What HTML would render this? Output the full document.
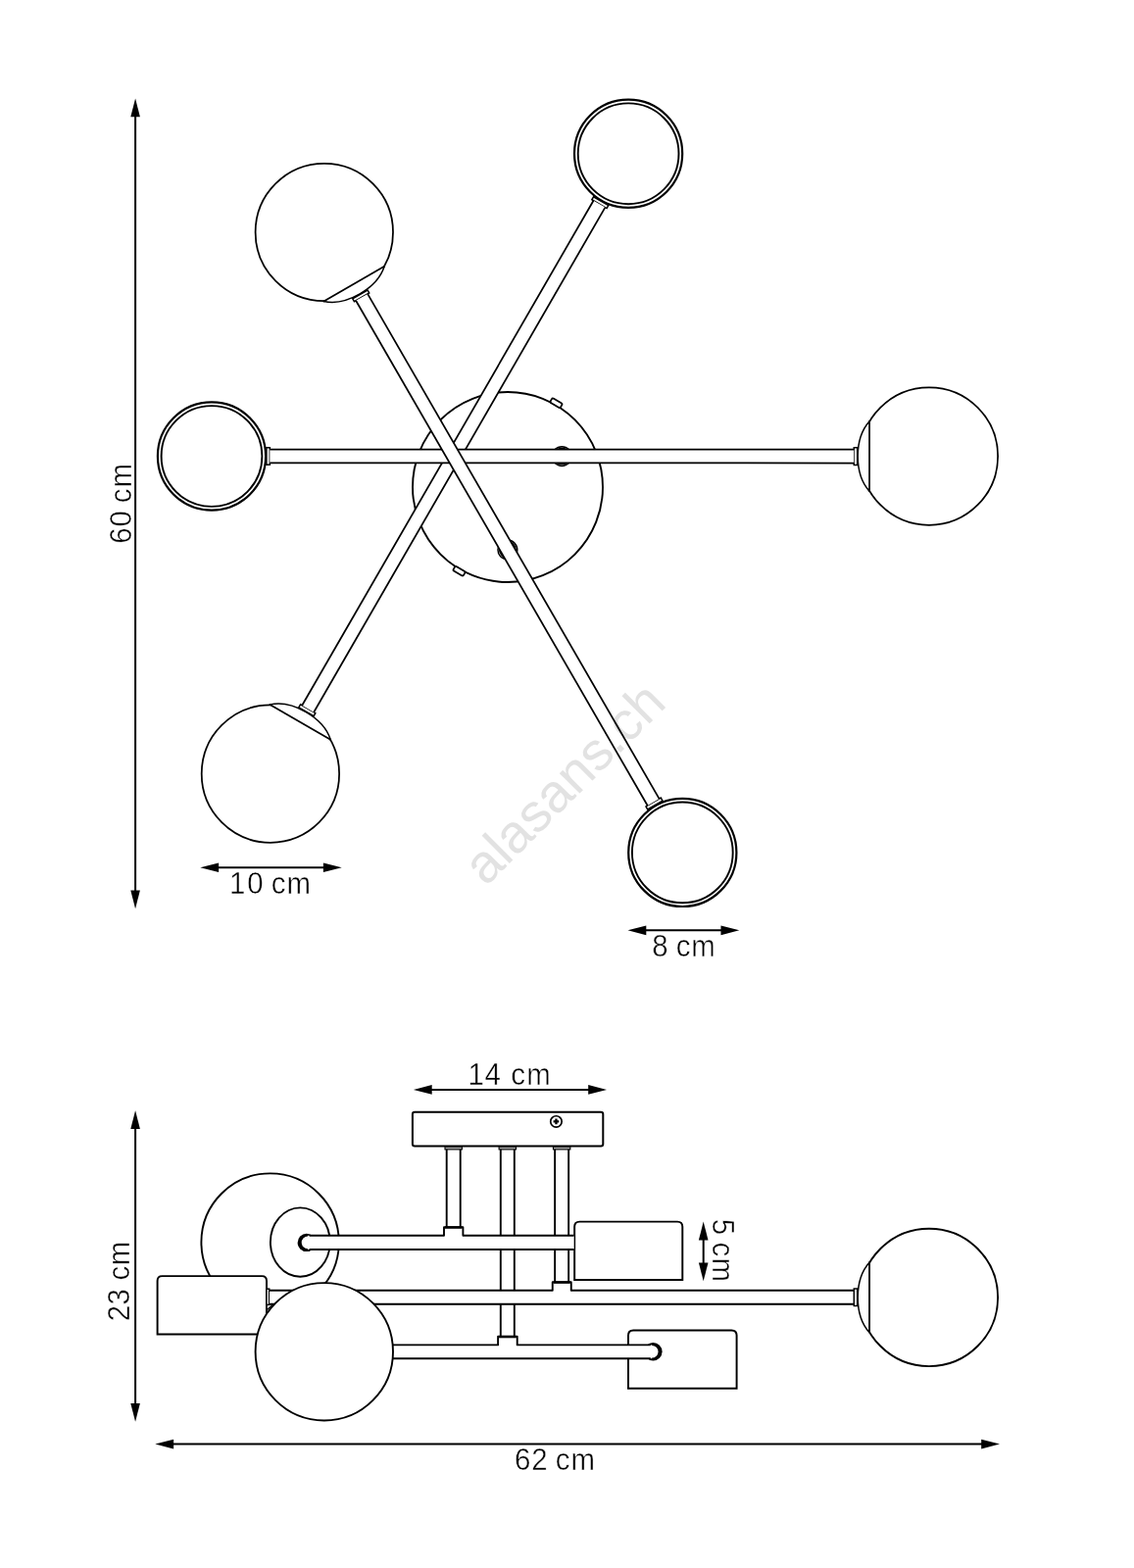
<!DOCTYPE html>
<html lang="en">
<head>
<meta charset="utf-8">
<title>Ceiling lamp dimensions</title>
<style>
html,body{margin:0;padding:0;background:#fff;}
body{width:1157px;height:1600px;overflow:hidden;}
svg{display:block;will-change:transform;}
svg text{font-family:"Liberation Sans",sans-serif;white-space:pre;}
</style>
</head>
<body>
<svg width="1157" height="1600" viewBox="0 0 1157 1600">
<rect width="1157" height="1600" fill="#fff"/>
<circle cx="518.0" cy="497.0" r="97.0" fill="none" stroke="#000" stroke-width="1.9"/>
<rect x="-6" y="-2.6" width="12" height="5.2" rx="1.6" fill="#fff" stroke="#000" stroke-width="1.8" transform="translate(567.5 411.26) rotate(30)"/>
<rect x="-6" y="-2.6" width="12" height="5.2" rx="1.6" fill="#fff" stroke="#000" stroke-width="1.8" transform="translate(468.5 582.74) rotate(210)"/>
<circle cx="275.9" cy="789.6" r="70.2" fill="#fff" stroke="#000" stroke-width="1.75"/>
<path d="M337.25 754.75A43.54 27.7 30 0 0 275.4 719.05Z" fill="#fff" stroke="none"/>
<path d="M337.25 754.75A43.54 27.7 30 0 0 275.4 719.05" fill="none" stroke="#000" stroke-width="1.5"/>
<line x1="337.25" y1="754.75" x2="275.4" y2="719.05" stroke="#000" stroke-width="1.75" stroke-linecap="round"/>
<circle cx="641.1" cy="156.8" r="55.1" fill="#fff" stroke="#000" stroke-width="2.2"/>
<circle cx="641.1" cy="156.8" r="51.4" fill="none" stroke="#000" stroke-width="1.9"/>
<polygon points="320.12,730.61 321.82,727.66 306.58,718.86 304.88,721.81" fill="#fff" stroke="#000" stroke-width="1.5"/>
<polygon points="605.53,200.81 603.83,203.76 619.07,212.56 620.77,209.61" fill="#fff" stroke="#000" stroke-width="1.5"/>
<polygon points="320.18,726.71 617.43,211.6 605.47,204.71 308.22,719.81" fill="#fff"/>
<path d="M320.18 726.71L617.43 211.6M308.22 719.81L605.47 204.71" fill="none" stroke="#000" stroke-width="1.75"/>
<circle cx="947.9" cy="465.6" r="70.2" fill="#fff" stroke="#000" stroke-width="1.75"/>
<path d="M887.05 429.9A43.54 27.7 270 0 0 887.05 501.3Z" fill="#fff" stroke="none"/>
<path d="M887.05 429.9A43.54 27.7 270 0 0 887.05 501.3" fill="none" stroke="#000" stroke-width="1.5"/>
<line x1="887.05" y1="429.9" x2="887.05" y2="501.3" stroke="#000" stroke-width="1.75" stroke-linecap="round"/>
<circle cx="216" cy="465.5" r="55.1" fill="#fff" stroke="#000" stroke-width="2.2"/>
<circle cx="216" cy="465.5" r="51.4" fill="none" stroke="#000" stroke-width="1.9"/>
<polygon points="874.7,456.8 871.3,456.8 871.3,474.4 874.7,474.4" fill="#fff" stroke="#000" stroke-width="1.5"/>
<polygon points="271.9,474.3 275.3,474.3 275.3,456.7 271.9,456.7" fill="#fff" stroke="#000" stroke-width="1.5"/>
<circle cx="573.3" cy="465.55" r="9.9" fill="#fff" stroke="#000" stroke-width="1.5"/>
<circle cx="573.3" cy="465.55" r="8.2" fill="none" stroke="#000" stroke-width="1.5"/>
<polygon points="871.3,458.7 275.3,458.6 275.3,472.4 871.3,472.5" fill="#fff"/>
<path d="M871.3 458.7L275.3 458.6M871.3 472.5L275.3 472.4" fill="none" stroke="#000" stroke-width="1.75"/>
<circle cx="330.8" cy="237" r="70.2" fill="#fff" stroke="#000" stroke-width="1.75"/>
<path d="M330.3 307.55A43.54 27.7 150 0 0 392.15 271.85Z" fill="#fff" stroke="none"/>
<path d="M330.3 307.55A43.54 27.7 150 0 0 392.15 271.85" fill="none" stroke="#000" stroke-width="1.5"/>
<line x1="330.3" y1="307.55" x2="392.15" y2="271.85" stroke="#000" stroke-width="1.75" stroke-linecap="round"/>
<circle cx="696.3" cy="869.9" r="55.1" fill="#fff" stroke="#000" stroke-width="2.2"/>
<circle cx="696.3" cy="869.9" r="51.4" fill="none" stroke="#000" stroke-width="1.9"/>
<polygon points="359.78,304.79 361.48,307.74 376.72,298.94 375.02,295.99" fill="#fff" stroke="#000" stroke-width="1.5"/>
<polygon points="675.97,817.09 674.27,814.14 659.03,822.94 660.73,825.89" fill="#fff" stroke="#000" stroke-width="1.5"/>
<circle cx="517.88" cy="560.94" r="9.9" fill="#fff" stroke="#000" stroke-width="1.5"/>
<circle cx="517.88" cy="560.94" r="8.2" fill="none" stroke="#000" stroke-width="1.5"/>
<polygon points="363.12,306.79 660.67,822 672.63,815.09 375.08,299.89" fill="#fff"/>
<path d="M363.12 306.79L660.67 822M375.08 299.89L672.63 815.09" fill="none" stroke="#000" stroke-width="1.75"/>
<text transform="translate(495.7 905.2) rotate(-45)" x="0" y="0" font-size="55" fill="#e2e2e2" style="mix-blend-mode:multiply">alasans.ch</text>
<line x1="138.1" y1="115.44" x2="138.1" y2="912.26" stroke="#000" stroke-width="2.0"/>
<polygon points="138.1,100.4 133.3,119.2 142.9,119.2" fill="#000"/>
<polygon points="138.1,927.3 133.3,908.5 142.9,908.5" fill="#000"/>
<line x1="219.34" y1="885.2" x2="333.66" y2="885.2" stroke="#000" stroke-width="2.0"/>
<polygon points="204.3,885.2 223.1,890 223.1,880.4" fill="#000"/>
<polygon points="348.7,885.2 329.9,890 329.9,880.4" fill="#000"/>
<line x1="655.54" y1="949.35" x2="739.26" y2="949.35" stroke="#000" stroke-width="2.0"/>
<polygon points="640.5,949.35 659.3,954.15 659.3,944.55" fill="#000"/>
<polygon points="754.3,949.35 735.5,954.15 735.5,944.55" fill="#000"/>
<text transform="translate(0 912.1) scale(0.955 1)" x="244.94 264.11 281.23 289.8 306.38" y="0" font-size="30.8" fill="#000" stroke="#fff" stroke-width="0.45" paint-order="fill stroke" >10 cm</text>
<text transform="translate(0 975.7) scale(0.955 1)" x="696.72 713.85 722.37 738.37" y="0" font-size="30.8" fill="#000" stroke="#fff" stroke-width="0.45" paint-order="fill stroke" >8 cm</text>
<text transform="translate(133.6 0) rotate(-90) scale(0.955 1)" x="-580.87 -562.81 -545.68 -537.42 -521" y="0" font-size="30.8" fill="#000" stroke="#fff" stroke-width="0.45" paint-order="fill stroke" >60 cm</text>
<circle cx="275.6" cy="1267.6" r="70.2" fill="#fff" stroke="#000" stroke-width="1.9"/>
<ellipse cx="306.3" cy="1267.6" rx="30.4" ry="35.2" fill="none" stroke="#000" stroke-width="1.9"/>
<rect x="420.9" y="1134.8" width="194.4" height="34.6" rx="2.2" fill="#fff" stroke="#000" stroke-width="2.0"/>
<circle cx="567.45" cy="1144.45" r="5.7" fill="#fff" stroke="#000" stroke-width="1.7"/>
<path d="M564.6 1144.45H570.3M567.45 1141.6V1147.3" stroke="#000" stroke-width="2.3" fill="none"/>
<path d="M455.7 1170V1252.3M469.7 1170V1252.3" stroke="#000" stroke-width="1.9" fill="none"/>
<rect x="454" y="1170.2" width="17.4" height="2.7" fill="#a8a8a8" stroke="#000" stroke-width="1.1"/>
<path d="M510.8 1170V1363.8M524.8 1170V1363.8" stroke="#000" stroke-width="1.9" fill="none"/>
<rect x="509.1" y="1170.2" width="17.4" height="2.7" fill="#a8a8a8" stroke="#000" stroke-width="1.1"/>
<path d="M566.15 1170V1308.3M580.15 1170V1308.3" stroke="#000" stroke-width="1.9" fill="none"/>
<rect x="564.45" y="1170.2" width="17.4" height="2.7" fill="#a8a8a8" stroke="#000" stroke-width="1.1"/>
<path d="M160.6 1361.5L160.6 1306.9Q160.6 1302.1 165.4 1302.1L267.2 1302.1Q272 1302.1 272 1306.9L272 1361.5Z" fill="#fff" stroke="#000" stroke-width="1.95" stroke-linejoin="miter"/>
<path d="M586.15 1306L586.15 1251.8Q586.15 1246.6 591.35 1246.6L691.1 1246.6Q696.3 1246.6 696.3 1251.8L696.3 1306Z" fill="#fff" stroke="#000" stroke-width="1.95" stroke-linejoin="miter"/>
<circle cx="312.8" cy="1267.9" r="9.2" fill="#000"/>
<circle cx="314" cy="1267.9" r="6.3" fill="#fff"/>
<rect x="314" y="1260.8" width="271.6" height="14.2" fill="#fff"/>
<rect x="453" y="1252.2" width="19.4" height="8.6" fill="#fff"/>
<line x1="454" y1="1252.5" x2="471.4" y2="1252.5" stroke="#000" stroke-width="2.4"/>
<path d="M315.6 1260.8H453V1252.2H472.4V1260.8H585.6M315.6 1275H585.6" stroke="#000" stroke-width="1.9" fill="none" stroke-linejoin="round"/>
<rect x="272.9" y="1331.6" width="9" height="12" fill="#fff"/>
<line x1="272.6" y1="1336.6" x2="278.2" y2="1331.6" stroke="#000" stroke-width="1.3"/>
<rect x="271.9" y="1315.2" width="2.8" height="16.2" fill="#fff" stroke="#000" stroke-width="1.5"/>
<rect x="275" y="1316.7" width="595.9" height="14.1" fill="#fff"/>
<rect x="563.75" y="1308.3" width="19" height="8.4" fill="#fff"/>
<line x1="564.75" y1="1308.6" x2="581.75" y2="1308.6" stroke="#000" stroke-width="2.4"/>
<path d="M275 1316.7H563.75V1308.3H582.75V1316.7H870.9M275 1330.8H870.9" stroke="#000" stroke-width="1.9" fill="none" stroke-linejoin="round"/>
<path d="M641 1416.8L641 1362.6Q641 1357.4 646.2 1357.4L746.4 1357.4Q751.6 1357.4 751.6 1362.6L751.6 1416.8Z" fill="#fff" stroke="#000" stroke-width="1.95" stroke-linejoin="miter"/>
<circle cx="666.4" cy="1379.3" r="9.2" fill="#000"/>
<circle cx="665.2" cy="1379.3" r="6.3" fill="#fff"/>
<rect x="395" y="1372.4" width="270.2" height="13.8" fill="#fff"/>
<rect x="508.1" y="1363.8" width="19.6" height="8.6" fill="#fff"/>
<line x1="509.1" y1="1364.1" x2="526.7" y2="1364.1" stroke="#000" stroke-width="2.4"/>
<path d="M395 1372.4H508.1V1363.8H527.7V1372.4H663.8M395 1386.2H663.8" stroke="#000" stroke-width="1.9" fill="none" stroke-linejoin="round"/>
<circle cx="330.8" cy="1379.3" r="70.2" fill="#fff" stroke="#000" stroke-width="1.9"/>
<circle cx="947.9" cy="1323.9" r="70.2" fill="#fff" stroke="#000" stroke-width="1.9"/>
<path d="M887.05 1288.2A43.54 27.7 270 0 0 887.05 1359.6Z" fill="#fff" stroke="none"/>
<path d="M887.05 1288.2A43.54 27.7 270 0 0 887.05 1359.6" fill="none" stroke="#000" stroke-width="1.5"/>
<line x1="887.05" y1="1288.2" x2="887.05" y2="1359.6" stroke="#000" stroke-width="1.9" stroke-linecap="round"/>
<polygon points="874.7,1314.95 871.3,1314.95 871.3,1332.55 874.7,1332.55" fill="#fff" stroke="#000" stroke-width="1.5"/>
<line x1="138.1" y1="1148.24" x2="138.1" y2="1435.76" stroke="#000" stroke-width="2.0"/>
<polygon points="138.1,1133.2 133.3,1152 142.9,1152" fill="#000"/>
<polygon points="138.1,1450.8 133.3,1432 142.9,1432" fill="#000"/>
<line x1="173.34" y1="1473.6" x2="1004.96" y2="1473.6" stroke="#000" stroke-width="2.0"/>
<polygon points="158.3,1473.6 177.1,1478.4 177.1,1468.8" fill="#000"/>
<polygon points="1020,1473.6 1001.2,1478.4 1001.2,1468.8" fill="#000"/>
<line x1="436.94" y1="1111.9" x2="603.96" y2="1111.9" stroke="#000" stroke-width="2.0"/>
<polygon points="421.9,1111.9 440.7,1116.7 440.7,1107.1" fill="#000"/>
<polygon points="619,1111.9 600.2,1116.7 600.2,1107.1" fill="#000"/>
<line x1="717.7" y1="1261.64" x2="717.7" y2="1292.16" stroke="#000" stroke-width="2.0"/>
<polygon points="717.7,1246.6 712.9,1265.4 722.5,1265.4" fill="#000"/>
<polygon points="717.7,1307.2 712.9,1288.4 722.5,1288.4" fill="#000"/>
<text transform="translate(0 1106.9) scale(0.955 1)" x="499.91 517.71 534.84 545.77 562.5" y="0" font-size="30.8" fill="#000" stroke="#fff" stroke-width="0.45" paint-order="fill stroke" >14 cm</text>
<text transform="translate(0 1500.3) scale(0.955 1)" x="549.76 567.77 584.9 593.47 610.04" y="0" font-size="30.8" fill="#000" stroke="#fff" stroke-width="0.45" paint-order="fill stroke" >62 cm</text>
<text transform="translate(132.4 0) rotate(-90) scale(0.955 1)" x="-1411.86 -1394.18 -1377.05 -1367.95 -1352" y="0" font-size="30.8" fill="#000" stroke="#fff" stroke-width="0.45" paint-order="fill stroke" >23 cm</text>
<text transform="translate(726.7 0) rotate(90) scale(0.955 1)" x="1302.25 1319.38 1327.29 1343.87" y="0" font-size="30.8" fill="#000" stroke="#fff" stroke-width="0.45" paint-order="fill stroke" >5 cm</text>
</svg>
</body>
</html>
